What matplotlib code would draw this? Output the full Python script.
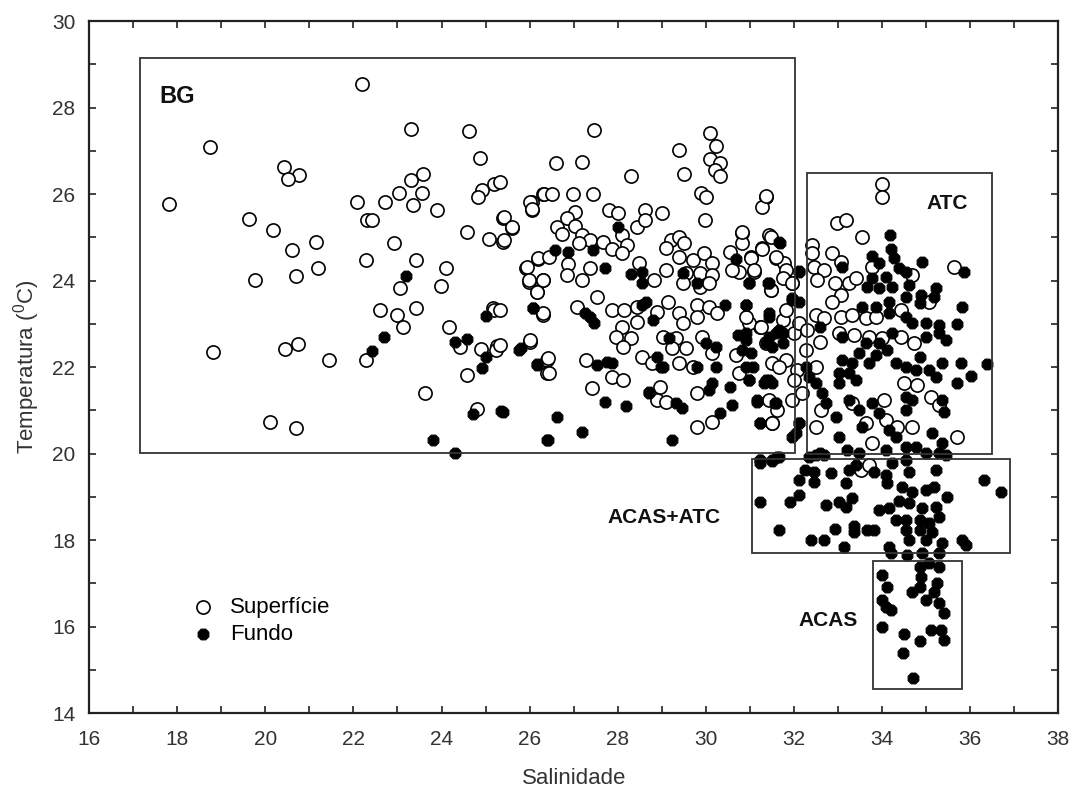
import matplotlib
matplotlib.use("Agg")
import matplotlib.pyplot as plt
from matplotlib.patches import Rectangle
from matplotlib.ticker import MultipleLocator

plt.rcParams['font.family'] = ['Liberation Sans', 'DejaVu Sans']
plt.rcParams['mathtext.fontset'] = 'custom'
plt.rcParams['mathtext.rm'] = 'Liberation Sans'
plt.rcParams['mathtext.it'] = 'Liberation Sans'

# Superfície (open circles): salinity, temperature
sup_sal = [
    22.19, 17.81, 18.74, 20.42, 20.76, 20.51, 19.63, 20.17, 20.60, 21.15, 21.19, 20.69, 19.76, 18.81,
    20.44, 20.74, 21.44, 20.10, 20.69, 23.30, 24.62, 24.87, 25.20, 24.93, 24.82, 23.30, 23.57, 23.55,
    23.35, 23.03, 22.71, 22.08, 22.30, 22.42, 23.89, 22.92, 22.28, 23.41, 24.10, 23.98, 23.05, 24.59,
    25.07, 25.39, 25.59, 25.39, 26.05, 26.05, 26.30, 22.60, 22.98, 23.12, 23.41, 24.16, 25.16, 25.20,
    24.41, 24.89, 25.27, 25.23, 26.00, 24.59, 23.62, 22.28, 24.80, 25.91, 26.18, 25.98, 26.30, 26.16,
    26.30, 26.39, 26.39,
    27.45, 26.61, 27.20, 28.31, 29.38, 29.51, 30.10, 30.22, 30.10, 30.33, 30.20, 30.33, 29.88, 30.01,
    29.97, 31.37, 31.28, 26.02, 26.05, 26.32, 26.50, 26.98, 27.43, 27.81, 28.00, 28.63, 29.00, 28.43,
    28.63, 27.02, 26.84, 26.63, 27.02, 26.73, 27.20, 27.36, 27.13, 27.66, 28.09, 28.20, 27.88, 28.09,
    25.41, 25.59, 25.41, 25.93, 26.18, 26.45, 25.98, 26.30, 26.16, 26.86, 26.84, 27.20, 27.36, 28.49,
    28.83, 29.10, 29.22, 29.40, 29.51, 29.10, 29.40, 29.70, 29.95, 30.13, 29.56, 29.86, 30.15, 29.47,
    29.86, 30.08, 30.54, 30.81, 30.83, 31.03, 30.76, 31.10, 30.60, 31.28, 31.44, 31.60, 31.78, 31.49,
    31.78, 31.96, 27.07, 27.52, 27.86, 28.15, 28.43, 29.13, 28.88, 28.09, 27.97, 28.31, 28.11, 28.43,
    29.40, 29.79, 30.08, 29.47, 29.79, 30.26, 29.33, 29.02, 29.56, 29.24, 28.56, 28.77, 29.40, 29.70,
    29.92, 30.15, 27.29, 26.41, 26.43, 26.30, 26.02, 27.88, 28.11, 27.41, 28.95, 28.88, 29.10, 29.81,
    29.81, 30.13, 30.69, 30.76, 31.22, 31.37, 31.51, 31.62, 31.96, 31.83, 31.74, 32.01, 25.32, 25.32,
    25.32, 30.99,
    34.00, 34.00, 31.37, 32.98, 33.19, 33.55, 35.64, 30.83, 31.49, 31.28, 31.03, 31.60, 31.83, 31.10,
    31.74, 31.96, 31.49, 32.42, 32.42, 32.87, 33.07, 32.46, 32.69, 32.53, 32.92, 33.07, 32.87, 33.26,
    33.41, 33.78, 34.68, 35.07, 32.51, 32.69, 33.07, 33.32, 33.64, 33.87, 34.44, 30.92, 31.26, 31.83,
    32.12, 32.30, 32.58, 33.03, 33.37, 33.71, 34.00, 34.44, 34.73, 32.28, 32.08, 32.01, 32.19, 32.51,
    31.51, 31.67, 31.44, 31.51, 32.51, 32.62, 33.32, 33.64, 34.05, 34.10, 34.34, 34.50, 34.80, 35.12,
    35.30, 34.68, 35.71, 33.76, 33.53, 33.71,
]
sup_temp = [
    28.54, 25.77, 27.09, 26.62, 26.44, 26.35, 25.42, 25.17, 24.71, 24.89, 24.29, 24.10, 24.01, 22.35,
    22.42, 22.53, 22.16, 20.73, 20.59, 27.50, 27.46, 26.83, 26.23, 26.09, 25.93, 26.32, 26.46, 26.02,
    25.74, 26.02, 25.82, 25.82, 25.40, 25.40, 25.63, 24.87, 24.47, 24.47, 24.29, 23.87, 23.83, 25.12,
    24.96, 25.45, 25.21, 24.89, 25.82, 25.63, 26.00, 23.32, 23.20, 22.93, 23.36, 22.93, 23.36, 23.32,
    22.46, 22.42, 22.49, 22.40, 22.58, 21.82, 21.40, 22.16, 21.03, 24.29, 24.50, 23.97, 24.01, 23.73,
    23.20, 22.16, 21.86,
    27.48, 26.72, 26.74, 26.42, 27.02, 26.46, 27.41, 27.11, 26.81, 26.72, 26.56, 26.42, 26.02, 25.93,
    25.40, 25.93, 25.70, 25.82, 25.65, 26.00, 26.00, 26.00, 26.00, 25.63, 25.56, 25.63, 25.56, 25.24,
    25.40, 25.58, 25.45, 25.24, 25.26, 25.08, 25.05, 24.94, 24.87, 24.89, 25.05, 24.82, 24.73, 24.64,
    25.47, 25.24, 24.94, 24.31, 24.52, 24.54, 24.01, 24.01, 23.73, 24.38, 24.13, 24.01, 24.29, 24.40,
    24.01, 24.24, 24.94, 25.01, 24.87, 24.75, 24.54, 24.47, 24.64, 24.40, 24.17, 24.17, 24.13, 23.94,
    23.85, 23.94, 24.66, 25.10, 24.87, 24.54, 24.20, 24.20, 24.24, 24.75, 25.05, 24.52, 24.40, 23.78,
    24.08, 23.94, 23.39, 23.62, 23.32, 23.32, 23.39, 23.50, 23.27, 22.93, 22.69, 22.67, 22.46, 23.04,
    23.25, 23.43, 23.39, 23.02, 23.16, 23.25, 22.67, 22.69, 22.44, 22.44, 22.23, 22.09, 22.09, 22.00,
    22.69, 22.32, 22.16, 22.21, 21.86, 23.25, 22.62, 21.77, 21.70, 21.51, 21.54, 21.24, 21.19, 21.40,
    20.61, 20.73, 22.28, 21.86, 22.93, 22.56, 20.71, 21.00, 21.24, 22.16, 23.09, 22.79, 23.32, 22.51,
    26.28, 23.02,
    26.23, 25.93, 25.95, 25.33, 25.40, 25.01, 24.31, 25.12, 25.01, 24.73, 24.52, 24.54, 24.24, 24.24,
    24.06, 23.94, 23.78, 24.82, 24.64, 24.64, 24.43, 24.31, 24.24, 24.01, 23.94, 23.66, 23.50, 23.94,
    24.06, 24.31, 24.13, 23.50, 23.20, 23.13, 23.16, 23.20, 23.13, 23.16, 23.32, 23.16, 22.93, 23.32,
    23.02, 22.86, 22.58, 22.79, 22.74, 22.69, 22.67, 22.69, 22.56, 22.39, 21.93, 21.70, 21.40, 22.00,
    22.09, 22.00, 21.24, 20.71, 20.61, 21.00, 21.17, 20.71, 21.24, 20.77, 20.61, 21.63, 21.58, 21.31,
    21.12, 20.61, 20.38, 20.24, 19.62, 19.73,
]

# Fundo (filled circles): salinity, temperature
fun_sal = [
    23.19, 22.69, 22.42, 25.00, 24.30, 24.59, 25.00, 24.93, 25.77, 26.07, 26.16, 24.71, 25.34, 23.80,
    24.30, 26.39,
    28.00, 26.57, 26.86, 27.43, 27.72, 28.29, 28.56, 28.56, 29.47, 29.79, 30.69, 30.99, 31.40, 31.69,
    32.12, 26.07, 27.25, 27.47, 27.36, 28.54, 28.65, 28.79, 29.17, 30.44, 30.90, 30.01, 30.24, 30.72,
    30.92, 31.03, 31.06, 30.99, 30.24, 30.15, 30.08, 29.81, 28.88, 29.02, 28.72, 29.33, 29.45, 30.54,
    30.60, 30.31, 31.15, 31.22, 31.44, 31.60, 31.74, 31.51, 31.37, 31.51, 31.56, 31.96, 27.52, 27.75,
    27.88, 25.80, 26.16, 25.39, 26.63, 26.41, 27.18, 29.24, 27.70, 28.18, 28.70, 28.99, 32.12, 32.05,
    31.22, 31.51, 31.67,
    34.19, 34.21, 33.78, 34.28, 34.91, 33.94, 34.39, 34.55, 33.78, 34.10, 35.86, 33.10, 31.67, 32.12,
    31.44, 30.99, 33.66, 33.94, 34.23, 34.62, 35.23, 35.18, 34.89, 34.55, 34.16, 33.87, 34.85, 35.82,
    33.55, 31.96, 32.12, 30.92, 31.44, 34.16, 34.55, 34.68, 35.00, 35.30, 35.71, 35.30, 35.46, 35.00,
    31.67, 31.44, 31.37, 31.74, 32.58, 33.10, 33.64, 33.94, 34.23, 34.12, 33.87, 33.48, 33.32, 33.71,
    33.10, 33.03, 33.26, 33.03, 33.41, 34.32, 34.55, 34.85, 34.78, 35.07, 35.37, 35.80, 36.39, 36.02,
    35.71, 35.23, 30.92, 30.81, 30.92, 30.99, 31.44, 31.33, 31.15, 31.60, 31.22, 31.96, 32.12, 32.28,
    32.35, 32.51, 32.64, 32.73, 32.96, 33.26, 33.48, 33.78, 33.94, 34.55, 34.55, 34.68, 35.37, 35.41,
    33.03, 33.55, 34.16, 34.32, 34.55, 34.78, 35.14, 35.37, 35.30, 35.00, 34.10, 32.58, 32.35, 31.22,
    31.22, 31.51, 31.62, 32.51, 32.69, 33.21, 33.48, 32.24, 32.46, 32.12, 32.46, 32.85, 33.26, 33.41,
    33.82, 34.10, 34.12, 33.19, 34.23, 34.55, 34.62, 35.23, 35.46, 34.46, 34.68, 35.00, 35.18, 35.48,
    31.22, 31.90, 32.12, 32.73, 33.03, 33.32, 33.19, 33.94, 34.16, 34.39, 34.62, 34.91, 35.23, 35.30,
    34.32, 34.55, 34.85, 35.07, 34.55, 34.85, 35.14, 34.62, 35.00, 35.37, 35.82, 35.91, 31.67, 32.39,
    32.69, 32.92, 33.37, 33.37, 33.66, 33.82, 33.14, 34.16, 34.21, 34.57, 34.91, 35.30, 36.32, 36.70,
    34.85, 35.07, 35.30, 34.89, 34.00, 34.12, 34.68, 34.85, 35.25, 35.18, 34.00, 34.10, 34.21, 35.00,
    35.30, 35.41, 34.00, 34.50, 34.85, 35.12, 35.34, 35.41, 34.48, 34.71,
]
fun_temp = [
    24.10, 22.69, 22.37, 23.18, 22.58, 22.65, 22.23, 21.98, 22.40, 23.36, 22.07, 20.91, 20.98, 20.31,
    20.01, 20.31,
    25.24, 24.71, 24.66, 24.71, 24.29, 24.15, 24.20, 23.94, 24.17, 23.94, 24.50, 23.94, 23.94, 24.87,
    24.20, 23.36, 23.25, 23.02, 23.16, 23.43, 23.50, 23.09, 22.67, 23.43, 23.43, 22.56, 22.46, 22.74,
    22.62, 22.32, 22.00, 21.70, 22.00, 21.63, 21.47, 22.00, 22.23, 22.00, 21.40, 21.17, 21.05, 21.54,
    21.12, 20.93, 21.19, 20.71, 23.16, 22.79, 22.79, 22.46, 21.70, 21.63, 21.17, 23.55, 22.05, 22.12,
    22.09, 22.44, 22.05, 20.96, 20.84, 20.31, 20.49, 20.31, 21.19, 21.10, 21.42, 22.00, 20.71, 20.47,
    19.85, 19.85, 19.92,
    25.05, 24.73, 24.57, 24.52, 24.43, 24.40, 24.29, 24.20, 24.06, 24.08, 24.20, 24.31, 24.89, 24.22,
    23.94, 23.94, 23.85, 23.83, 23.85, 23.90, 23.83, 23.62, 23.66, 23.62, 23.50, 23.39, 23.48, 23.39,
    23.39, 23.60, 23.50, 23.43, 23.25, 23.25, 23.16, 23.02, 23.02, 22.97, 23.00, 22.79, 22.62, 22.69,
    22.86, 22.69, 22.56, 22.56, 22.93, 22.69, 22.56, 22.56, 22.79, 22.39, 22.28, 22.32, 22.09, 22.09,
    22.16, 21.86, 21.86, 21.63, 21.70, 22.09, 22.00, 22.23, 21.93, 21.93, 22.09, 22.09, 22.07, 21.79,
    21.63, 21.77, 22.79, 22.39, 22.00, 21.70, 21.70, 21.63, 21.24, 21.17, 20.71, 20.38, 20.71, 22.00,
    21.77, 21.63, 21.40, 21.17, 20.84, 21.24, 21.00, 21.17, 20.93, 21.31, 21.00, 21.24, 21.24, 20.96,
    20.38, 20.61, 20.54, 20.38, 20.15, 20.15, 20.47, 20.24, 20.01, 20.01, 20.08, 20.01, 19.92, 19.85,
    19.78, 19.83, 19.92, 19.97, 19.97, 20.08, 20.01, 19.62, 19.57, 19.39, 19.34, 19.55, 19.62, 19.73,
    19.57, 19.50, 19.32, 19.32, 19.78, 19.85, 19.57, 19.62, 19.97, 19.23, 19.11, 19.16, 19.23, 19.00,
    18.88, 18.88, 19.04, 18.81, 18.88, 18.97, 18.76, 18.69, 18.74, 18.90, 18.86, 18.74, 18.76, 18.53,
    18.46, 18.46, 18.46, 18.39, 18.23, 18.23, 18.19, 18.00, 18.00, 17.93, 18.00, 17.88, 18.23, 18.00,
    18.00, 18.25, 18.32, 18.19, 18.23, 18.23, 17.84, 17.84, 17.70, 17.65, 17.70, 17.70, 19.39, 19.11,
    17.38, 17.47, 17.38, 17.15, 17.19, 16.91, 16.80, 16.91, 17.00, 16.80, 16.61, 16.45, 16.38, 16.61,
    16.54, 16.31, 15.99, 15.83, 15.67, 15.92, 15.92, 15.69, 15.39, 14.81,
]

# Water mass boxes: name, salinity min, salinity max, temperature min, temperature max
box_names = ['BG', 'ATC', 'ACAS+ATC', 'ACAS']
box_sal_min = [17.15, 32.3, 31.05, 33.8]
box_sal_max = [32.02, 36.5, 36.9, 35.82]
box_temp_min = [20.02, 20.0, 17.7, 14.56]
box_temp_max = [29.15, 26.5, 19.87, 17.51]
label_sal = [17.6, 35.48, 29.05, 32.78]
label_temp = [28.25, 25.78, 18.53, 16.13]
label_size = [17, 15, 15, 15]
label_ha = ['left', 'center', 'center', 'center']

fig = plt.figure(figsize=(10.74, 7.87), dpi=100)
ax = fig.add_axes([0.0829, 0.094, 0.9025, 0.879])

ax.scatter(sup_sal, sup_temp, s=90, facecolors='white', edgecolors='black',
           linewidths=1.2, marker='o', zorder=3, label='Superfície')
ax.scatter(fun_sal, fun_temp, s=70, facecolors='black', edgecolors='black',
           linewidths=0.8, marker='8', zorder=4, label='Fundo')

for i in range(len(box_names)):
    ax.add_patch(Rectangle((box_sal_min[i], box_temp_min[i]),
                           box_sal_max[i] - box_sal_min[i],
                           box_temp_max[i] - box_temp_min[i],
                           fill=False, edgecolor='#333333', linewidth=1.3, zorder=5))
    ax.text(label_sal[i], label_temp[i], box_names[i], fontsize=label_size[i],
            fontweight='bold', ha=label_ha[i], va='center', color='#111111', zorder=6)

ax.set_xlim(16, 38)
ax.set_ylim(14, 30)
ax.xaxis.set_major_locator(MultipleLocator(2))
ax.xaxis.set_minor_locator(MultipleLocator(1))
ax.yaxis.set_major_locator(MultipleLocator(2))
ax.yaxis.set_minor_locator(MultipleLocator(1))
ax.tick_params(which='both', direction='in', top=True, right=True, labelsize=15,
               width=1.2, length=5, colors='#222222', labelcolor='#333333')
ax.tick_params(axis='x', which='major', pad=12)
ax.tick_params(axis='y', which='major', pad=10)
for sp in ax.spines.values():
    sp.set_linewidth(1.6)
    sp.set_color('#222222')

ax.set_xlabel('Salinidade', fontsize=16, labelpad=14, color='#333333')
ax.set_ylabel('Temperatura ($^0$C)', fontsize=16, labelpad=7, color='#333333')

leg = ax.legend(loc='center left', bbox_to_anchor=(0.1063, 0.133), frameon=False,
                fontsize=16, handlelength=1.0, handletextpad=0.7, labelspacing=0.25,
                borderpad=0, borderaxespad=0)

fig.savefig('out.png', dpi=100)
